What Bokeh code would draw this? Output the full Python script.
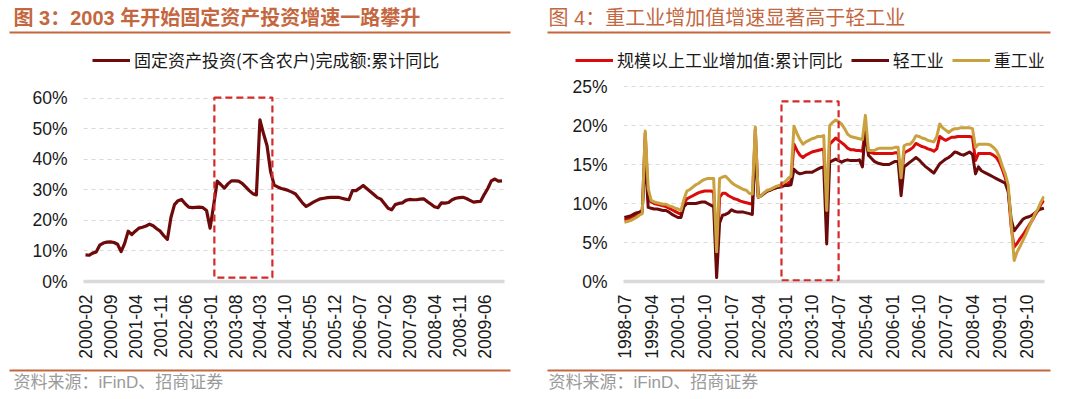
import math
from bokeh.plotting import figure
from bokeh.models import Range1d, FixedTicker, Legend, LegendItem, BoxAnnotation
from bokeh.layouts import row, column
from bokeh.embed import file_html
from bokeh.resources import INLINE
from bokeh.core.properties import value

# ---------------- data ----------------
left_title = "图 3：2003 年开始固定资产投资增速一路攀升"
right_title = "图 4：重工业增加值增速显著高于轻工业"
source_text = "资料来源：iFinD、招商证券"

left_start = "2000-02"
left_series_name = "固定资产投资(不含农户)完成额:累计同比"
left_values = [
    8.7, 8.6, 9.3, 9.7, 11.9, 12.6, 12.9, 13.0, 12.8, 12.2,
    9.8, 12.5, 16.5, 15.4, 16.5, 17.5, 17.8, 18.2, 18.8, 18.3,
    17.3, 16.5, 15.0, 13.8, 21.0, 25.2, 26.5, 26.9, 25.5, 24.4,
    24.2, 24.3, 24.4, 24.2, 23.3, 17.5, 25.0, 32.9, 31.8, 30.6,
    32.0, 33.0, 33.0, 32.9, 32.2, 31.0, 29.8, 28.8, 28.4, 53.0,
    48.5, 44.5, 36.0, 31.6, 31.0, 30.5, 30.2, 29.8, 29.3, 28.7,
    27.2, 25.7, 24.6, 25.3, 26.0, 26.6, 27.1, 27.3, 27.5, 27.6,
    27.6, 27.6, 27.3, 27.0, 26.8, 29.8, 29.8, 30.6, 31.5, 30.5,
    29.5, 28.5, 27.5, 27.0, 25.5, 24.0, 23.5, 25.2, 25.6, 25.8,
    26.6, 26.9, 26.8, 26.8, 27.0, 27.1, 26.2, 25.4, 24.5, 24.2,
    25.8, 25.7, 25.9, 26.8, 27.3, 27.5, 27.6, 27.2, 26.6, 26.0,
    26.2, 26.3, 28.5, 30.5, 33.0, 33.6, 32.9, 33.0,
]
left_tick_labels = ["2000-02", "2000-09", "2001-04", "2001-11", "2002-06", "2003-01",
                    "2003-08", "2004-03", "2004-10", "2005-05", "2005-12", "2006-07",
                    "2007-02", "2007-09", "2008-04", "2008-11", "2009-06"]
left_y_ticks = [0, 10, 20, 30, 40, 50, 60]

right_start = "1998-07"
right_names = ["规模以上工业增加值:累计同比", "轻工业", "重工业"]
total_values = [
    7.9, 8.0, 8.1, 8.3, 8.5, 8.7, 8.9, 19.0, 10.5, 10.2,
    10.0, 9.9, 9.8, 9.7, 9.6, 9.4, 9.2, 9.0, 8.8, 8.6,
    10.0, 10.6, 10.8, 11.0, 11.2, 11.4, 11.5, 11.6, 11.6, 11.6,
    11.5, 2.0, 10.8, 11.3, 11.3, 11.0, 10.8, 10.6, 10.5, 10.3,
    10.2, 10.1, 10.0, 9.9, 19.5, 10.8, 11.0, 11.3, 11.6, 11.7,
    11.9, 12.0, 12.1, 12.2, 12.4, 12.6, 12.9, 17.6, 16.8, 16.2,
    15.9, 16.2, 16.4, 16.6, 16.7, 16.8, 16.9, 17.0, 7.2, 17.6,
    18.0, 18.4, 18.1, 17.8, 17.5, 17.1, 16.9, 16.9, 16.8, 16.8,
    16.7, 19.5, 16.6, 16.5, 16.4, 16.4, 16.4, 16.4, 16.4, 16.4,
    16.4, 16.5, 16.5, 12.8, 16.5, 16.7, 16.9, 17.2, 17.7, 17.5,
    17.3, 17.2, 17.0, 16.9, 16.7, 17.0, 18.6, 18.3, 18.1, 18.3,
    18.5, 18.5, 18.6, 18.6, 18.6, 18.6, 18.6, 18.5, 15.5, 16.4,
    16.4, 16.4, 16.4, 16.4, 16.2, 15.9, 15.3, 14.4, 13.3, 11.8,
    7.0, 4.4, 4.9, 5.5, 6.0, 6.6, 7.2, 7.8, 8.5, 9.1,
    9.9, 10.4,
]
light_values = [
    8.2, 8.3, 8.4, 8.6, 8.8, 8.9, 9.1, 16.0, 9.5, 9.4,
    9.3, 9.3, 9.2, 9.1, 9.1, 8.9, 8.6, 8.4, 8.2, 8.2,
    9.6, 10.0, 10.0, 10.0, 10.0, 10.1, 10.2, 10.2, 10.0, 9.8,
    9.6, 0.5, 7.5, 8.5, 8.6, 8.8, 9.2, 9.0, 8.9, 8.9,
    8.9, 8.8, 8.7, 8.6, 17.0, 10.8, 11.0, 11.3, 11.6, 11.7,
    11.9, 12.0, 12.1, 12.2, 12.3, 12.3, 12.4, 14.4, 14.0, 13.8,
    13.9, 14.0, 14.0, 14.0, 14.2, 14.4, 14.6, 14.7, 4.8, 15.3,
    15.5, 15.7, 15.5, 15.3, 15.5, 15.6, 15.5, 15.5, 15.5, 15.6,
    14.7, 19.4, 16.2, 15.8, 15.4, 15.2, 15.1, 15.0, 15.0, 15.0,
    15.2, 15.4, 15.4, 11.0, 14.7, 15.0, 15.3, 15.6, 15.9, 15.6,
    15.2, 14.8, 14.5, 14.2, 13.9, 14.5, 15.1, 15.4, 15.7, 15.9,
    16.2, 16.6, 16.5, 16.3, 16.2, 16.4, 16.6, 16.3, 13.8, 14.7,
    14.2, 14.0, 13.8, 13.6, 13.4, 13.2, 13.0, 12.8, 12.6, 11.5,
    8.0, 6.5, 7.0, 7.5, 8.0, 8.2, 8.3, 8.5, 8.8, 9.1,
    9.3, 9.4,
]
heavy_values = [
    7.6, 7.7, 7.8, 8.0, 8.2, 8.5, 8.7, 19.3, 11.9, 10.4,
    10.2, 10.1, 10.0, 9.9, 9.9, 9.7, 9.6, 9.4, 9.3, 9.1,
    10.5, 11.6, 11.8, 12.1, 12.4, 12.6, 12.9, 13.1, 13.2, 13.2,
    13.2, 3.8, 13.2, 13.4, 13.5, 13.1, 12.7, 12.4, 12.2, 12.0,
    11.8, 11.7, 11.3, 11.2, 19.8, 10.8, 11.0, 11.4, 11.7, 11.8,
    12.0, 12.2, 12.3, 12.5, 12.8, 13.2, 13.5, 19.9, 19.0, 18.2,
    17.6, 17.9, 18.1, 18.3, 18.4, 18.6, 18.6, 18.7, 9.1, 20.0,
    20.4, 20.7, 20.5, 20.2, 19.6, 18.9, 18.6, 18.5, 18.4, 18.3,
    18.2, 21.3, 16.8, 16.8, 16.8, 17.0, 17.1, 17.1, 17.1, 17.1,
    17.1, 17.2, 17.2, 13.3, 17.4, 17.6, 17.6, 18.0, 18.7, 18.6,
    18.4, 18.3, 18.1, 18.0, 17.9, 18.6, 20.2, 19.7, 19.4, 19.1,
    19.4, 19.6, 19.6, 19.7, 19.7, 19.7, 19.7, 19.6, 17.2, 17.6,
    17.6, 17.6, 17.6, 17.5, 17.2, 16.8, 16.0, 14.8, 13.8, 12.4,
    7.5, 2.7, 3.8, 4.5, 5.3, 6.1, 7.0, 7.8, 8.7, 9.3,
    10.2, 10.9,
]
right_tick_labels = ["1998-07", "1999-04", "2000-01", "2000-10", "2001-07", "2002-04",
                     "2003-01", "2003-10", "2004-07", "2005-04", "2006-01", "2006-10",
                     "2007-07", "2008-04", "2009-01", "2009-10"]
right_y_ticks = [0, 5, 10, 15, 20, 25]

# ---------------- style ----------------
ACCENT = "#C4673F"
CJK = "Noto Sans CJK SC"
LATIN = "Liberation Sans"
MIXED = f"{LATIN}, {CJK}"
GRID = "#D9D9D9"
BOX_RED = "#D42A2A"
C_FAI = "#6E0A0A"
C_TOTAL = "#D90C0C"
C_LIGHT = "#6B0A0A"
C_HEAVY = "#C9A13F"

W_TOTAL = 1080
H_HEAD = 75
H_MAIN = 290
H_FOOT = 34


def month_index(label, start):
    y, m = map(int, label.split("-"))
    ys, ms = map(int, start.split("-"))
    return (y - ys) * 12 + (m - ms)


def blank_fig(width, height, y0, y1):
    p = figure(width=width, height=height, x_range=Range1d(0, width), y_range=Range1d(y1, y0),
               output_backend="svg", toolbar_location=None,
               x_axis_location=None, y_axis_location=None, min_border=0)
    p.xgrid.grid_line_color = None
    p.ygrid.grid_line_color = None
    p.outline_line_color = None
    return p


def style_axes(p, tick_labels, start, y_ticks):
    xt = [month_index(t, start) for t in tick_labels]
    p.xaxis.ticker = FixedTicker(ticks=xt)
    p.xaxis.major_label_overrides = {k: t for k, t in zip(xt, tick_labels)}
    p.xaxis.major_label_orientation = math.pi / 2
    p.xaxis.axis_line_color = GRID
    p.xaxis.axis_line_width = 3.5
    p.xaxis.major_tick_line_color = None
    p.xaxis.minor_tick_line_color = None
    p.xaxis.major_label_text_font = LATIN
    p.xaxis.major_label_text_font_size = "17.5px"
    p.xaxis.major_label_text_color = "#1a1a1a"
    p.xaxis.major_label_standoff = 7
    p.yaxis.ticker = FixedTicker(ticks=y_ticks)
    p.yaxis.major_label_overrides = {v: f"{v}%" for v in y_ticks}
    p.yaxis.axis_line_color = None
    p.yaxis.major_tick_line_color = None
    p.yaxis.minor_tick_line_color = None
    p.yaxis.major_label_text_font = LATIN
    p.yaxis.major_label_text_font_size = "17.5px"
    p.yaxis.major_label_text_color = "#1a1a1a"
    p.yaxis.major_label_standoff = 10
    p.xgrid.grid_line_color = None
    p.ygrid.grid_line_color = GRID
    p.ygrid.grid_line_dash = "4 4"
    p.ygrid.grid_line_width = 1
    p.outline_line_color = None


# ---------------- header (titles + legends) ----------------
head = blank_fig(W_TOTAL, H_HEAD, 0, H_HEAD)
head.text(x=[13], y=[17], text=[left_title], text_font=value(MIXED), text_font_size="20px",
          text_font_style="bold", text_color=ACCENT, text_baseline="middle")
head.text(x=[548], y=[17], text=[right_title], text_font=value(MIXED), text_font_size="20px",
          text_color=ACCENT, text_baseline="middle")
head.segment(x0=[9, 547], x1=[510, 1050], y0=[32, 32], y1=[32, 32], line_color=ACCENT, line_width=2.2)

# legend swatches (lines kept outside the visible header range)
s_fai = head.line(x=[-60, -50], y=[-60, -60], line_color=C_FAI, line_width=3.2)
s_tot = head.line(x=[-60, -50], y=[-60, -60], line_color=C_TOTAL, line_width=3)
s_lig = head.line(x=[-60, -50], y=[-60, -60], line_color=C_LIGHT, line_width=3)
s_hev = head.line(x=[-60, -50], y=[-60, -60], line_color=C_HEAVY, line_width=3)


def make_legend(items, x, y):
    return Legend(items=items, location=(x, y), orientation="horizontal",
                  glyph_width=38, glyph_height=16, label_standoff=4, spacing=8,
                  padding=0, margin=0, border_line_alpha=0, background_fill_alpha=0,
                  label_text_font=CJK, label_text_font_size="17px", label_text_color="#1a1a1a")


head.add_layout(make_legend([LegendItem(label=left_series_name, renderers=[s_fai])], 92, 3))
head.add_layout(make_legend([LegendItem(label=right_names[0], renderers=[s_tot]),
                             LegendItem(label=right_names[1], renderers=[s_lig]),
                             LegendItem(label=right_names[2], renderers=[s_hev])], 575, 3))

# ---------------- left chart ----------------
p1 = figure(width=540, height=H_MAIN, x_range=Range1d(-0.56, 117.7), y_range=Range1d(0, 64.26),
            output_backend="svg", toolbar_location=None,
            min_border_left=83, min_border_right=36, min_border_top=10, min_border_bottom=84)
style_axes(p1, left_tick_labels, left_start, left_y_ticks)
x1 = list(range(len(left_values)))
p1.line(x1, left_values, line_color=C_FAI, line_width=3.2, line_join="round")
p1.add_layout(BoxAnnotation(left=36.2, right=52.5, bottom=1.3, top=60.3, fill_alpha=0,
                            line_color=BOX_RED, line_alpha=1, line_width=2.2, line_dash="7 4"))

# ---------------- right chart ----------------
p2 = figure(width=540, height=H_MAIN, x_range=Range1d(-0.3, 141.2), y_range=Range1d(0, 25.13),
            output_backend="svg", toolbar_location=None,
            min_border_left=83, min_border_right=36, min_border_top=10, min_border_bottom=84)
style_axes(p2, right_tick_labels, right_start, right_y_ticks)
x2 = list(range(len(total_values)))
p2.line(x2, total_values, line_color=C_TOTAL, line_width=3, line_join="round")
p2.line(x2, light_values, line_color=C_LIGHT, line_width=3, line_join="round")
p2.line(x2, heavy_values, line_color=C_HEAVY, line_width=3, line_join="round")
p2.add_layout(BoxAnnotation(left=52.8, right=72.0, bottom=0.15, top=23.1, fill_alpha=0,
                            line_color=BOX_RED, line_alpha=1, line_width=2.2, line_dash="7 4"))

# ---------------- footer (sources) ----------------
foot = blank_fig(W_TOTAL, H_FOOT, H_HEAD + H_MAIN, H_HEAD + H_MAIN + H_FOOT)
foot.segment(x0=[9, 547], x1=[510, 1050], y0=[370, 370], y1=[370, 370], line_color=ACCENT, line_width=2.2)
foot.text(x=[13, 548], y=[382, 382], text=[source_text, source_text], text_font=value(MIXED),
          text_font_size="17px", text_color="#9A9A9A", text_baseline="middle")

layout = column(head, row(p1, p2, spacing=0), foot, spacing=0)
open("out.html", "w").write(file_html(layout, INLINE))
